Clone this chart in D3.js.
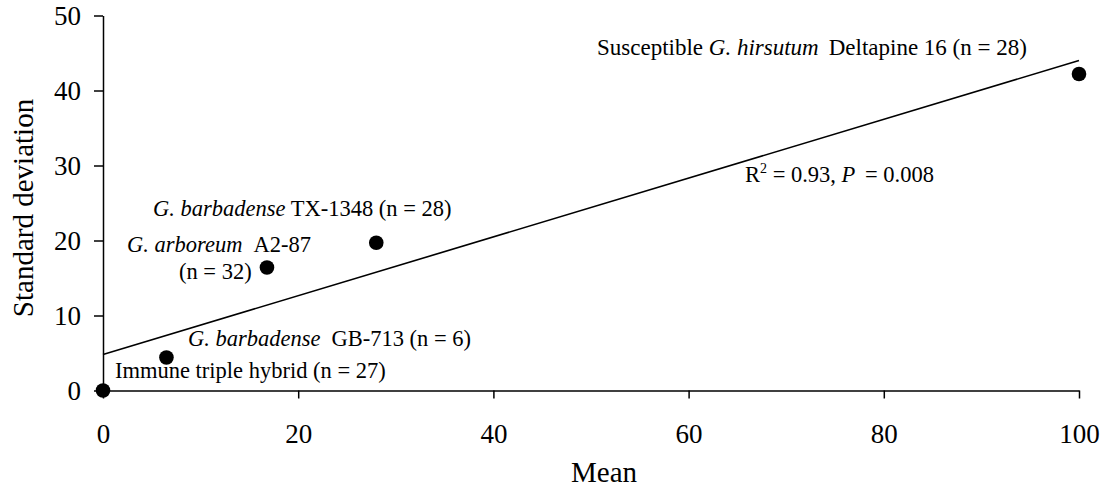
<!DOCTYPE html>
<html>
<head>
<meta charset="utf-8">
<script src="https://cdn.jsdelivr.net/npm/d3@7/dist/d3.min.js"></script>
<style>
  html, body { margin: 0; padding: 0; background: #fff; }
  svg { display: block; }
  text { font-family: "Liberation Serif", "Times New Roman", "DejaVu Serif", serif; fill: #000; }
</style>
</head>
<body>
<svg id="chart" width="1108" height="488"></svg>
<script>
// ---- data ----
const groups = ["Immune triple hybrid", "G. barbadense GB-713", "G. arboreum A2-87", "G. barbadense TX-1348", "Susceptible G. hirsutum Deltapine 16"];
const means = [0, 6.5, 16.8, 28.0, 100];
const sds = [0, 4.4, 16.4, 19.7, 42.2];
const nValues = [27, 6, 32, 28, 28];
const xTicks = [0, 20, 40, 60, 80, 100];
const yTicks = [0, 10, 20, 30, 40, 50];
const fitIntercept = [4.8];
const fitSlope = [0.392];
const fitStats = ["0.93", "0.008"]; // R², P

// ---- layout ----
const svg = d3.select("#chart");
const x = d3.scaleLinear().domain([0, 100]).range([103, 1079]);
const y = d3.scaleLinear().domain([0, 50]).range([390.5, 15.5]);
const serif = '"Liberation Serif", "Times New Roman", "DejaVu Serif", serif';

// x axis
const gx = svg.append("g").attr("transform", `translate(0,${y(0)})`)
  .call(d3.axisBottom(x).tickValues(xTicks).tickSize(8).tickSizeOuter(0).tickPadding(25).tickFormat(d3.format("d")));
// y axis
const gy = svg.append("g").attr("transform", `translate(${x(0)},0)`)
  .call(d3.axisLeft(y).tickValues(yTicks).tickSize(9).tickSizeOuter(0).tickPadding(13).tickFormat(d3.format("d")));

[gx, gy].forEach(g => {
  g.attr("font-family", serif);
  g.selectAll("path.domain").attr("stroke", "#000").attr("stroke-width", 1.5);
  g.selectAll(".tick line").attr("stroke", "#000").attr("stroke-width", 1.5);
  g.selectAll(".tick text").style("font-family", serif).style("font-size", "27px").attr("fill", "#000");
});

// axis titles
svg.append("text").attr("x", 604).attr("y", 482).attr("text-anchor", "middle")
  .style("font-size", "29px").text("Mean");
svg.append("text").attr("transform", "translate(33,208) rotate(-90)").attr("text-anchor", "middle")
  .style("font-size", "29px").text("Standard deviation");

// regression line
const fx = [0, 100];
svg.append("line")
  .attr("x1", x(fx[0])).attr("y1", y(fitIntercept[0] + fitSlope[0] * fx[0]))
  .attr("x2", x(fx[1])).attr("y2", y(fitIntercept[0] + fitSlope[0] * fx[1]))
  .attr("stroke", "#000").attr("stroke-width", 1.6);

// points
const pts = means.map((m, i) => ({ m, s: sds[i] }));
svg.selectAll("circle.pt").data(pts).enter().append("circle")
  .attr("class", "pt")
  .attr("cx", d => x(d.m)).attr("cy", d => y(d.s)).attr("r", 7.3).attr("fill", "#000");

// annotations: each part is [text, italic, dx]
function label(xp, yp, parts, size) {
  const t = svg.append("text").attr("x", xp).attr("y", yp).style("font-size", size + "px");
  parts.forEach(p => {
    const ts = t.append("tspan").text(p[0]);
    if (p[1]) ts.style("font-style", "italic");
    if (p[2]) ts.attr("dx", p[2]);
  });
  return t;
}
const fs = 22.5;
label(115, 378, [["Immune triple hybrid (n = " + nValues[0] + ")", false]], fs);
label(188, 346, [["G. barbadense", true], ["GB-713 (n = " + nValues[1] + ")", false, 11]], fs);
label(127, 252, [["G. arboreum", true], ["A2-87", false, 11]], fs);
label(179, 279, [["(n = " + nValues[2] + ")", false]], fs);
label(153, 216, [["G. barbadense", true], [" TX-1348 (n = " + nValues[3] + ")", false]], fs);
label(597, 55, [["Susceptible ", false], ["G. hirsutum", true], ["Deltapine 16 (n = " + nValues[4] + ")", false, 10]], 23);

// R² annotation
const rt = svg.append("text").attr("x", 745).attr("y", 182).style("font-size", fs + "px");
rt.append("tspan").text("R");
rt.append("tspan").text("2").attr("dy", -9).style("font-size", "14px");
rt.append("tspan").text(" = " + fitStats[0] + ", ").attr("dy", 9);
rt.append("tspan").text("P").style("font-style", "italic");
rt.append("tspan").text(" = " + fitStats[1]).attr("dx", 4);
</script>
</body>
</html>
